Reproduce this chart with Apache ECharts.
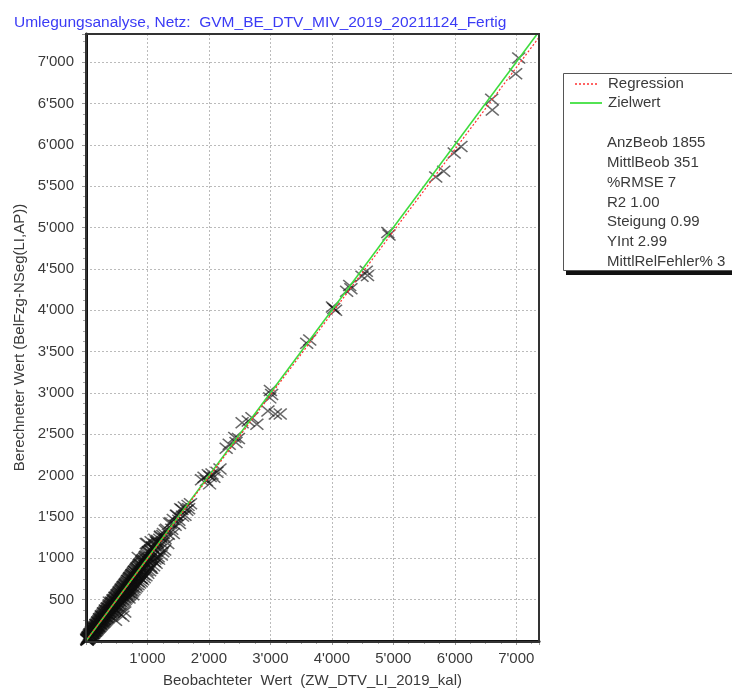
<!DOCTYPE html>
<html><head><meta charset="utf-8">
<script src="https://cdn.jsdelivr.net/npm/echarts@6/dist/echarts.min.js"></script>
<style>html,body{margin:0;padding:0;background:#fff}#c{width:732px;height:693px}</style>
</head><body><div id="c"></div>
<script>
const obsLow = [15,22,30,38,45,52,60,68,75,80,88,95,102,108,115,120,128,135,140,146,152,158,165,170,176,182,188,195,200,206,212,218,225,230,236,242,248,255,260,266,272,278,284,290,296];
const calcLow = [18,20,35,33,50,47,66,61,80,72,95,90,110,98,122,112,140,126,150,133,160,148,178,160,190,170,196,180,215,192,225,205,240,214,248,228,262,238,275,250,290,258,300,270,312];
const obsMid = [302,308,315,320,326,332,338,345,350,356,362,368,375,380,386,392,398,405,410,416,422,428,435,440,446,452,458,465,470,476,482,490,496,502,508,515,520,528,534,540,546,552,560,566,572,580,586,592,600,606,612,620,628,634,640,648,655,662,668,675,682,690,696];
const calcMid = [285,330,296,342,305,350,318,365,330,372,340,390,352,400,362,415,375,430,385,440,398,455,410,465,420,478,430,490,442,505,455,520,468,530,478,545,490,560,500,570,515,585,525,600,540,610,552,625,565,640,578,655,590,668,605,680,618,700,630,712,640,728,655];
const obsDense = [10,18,25,33,40,48,55,62,70,78,85,92,100,106,113,118,125,132,138,144,150,156,162,168,174,180,186,192,198,204,210,216,222,228,234,240,246,252,258,264,270,276,282,288,294,300,310,318,325,334,342,350,358,366,374,382,390,398,
  408,416,425,433,442,450,458,466,475,484,492,500,510,518,526,535,544,552,560,570,578,586,595,604,612,620,630,640,648,656,665,674,682,690,700,710,718,726,735,744,752,760,770,780,790,800,
  810,822,835,846,858,870,882,895,908,920,935,948,960,975,990,1005,1020,1035,1050,1068,1085,1100,1120,1140,1160,1180,1200,1225,1250,1280];
const calcDense = [25,8,40,20,58,30,75,45,92,55,110,70,128,80,140,92,155,100,170,112,180,122,195,130,205,140,222,150,235,160,248,170,262,178,275,190,290,198,300,210,315,218,330,228,345,236,360,248,372,262,390,275,405,285,420,298,438,310,
  455,322,470,338,490,352,505,365,525,380,540,395,560,405,575,420,595,435,610,448,628,462,645,478,662,490,680,505,698,520,715,535,735,548,752,560,770,575,790,590,808,605,825,620,845,640,
  865,660,885,680,905,700,930,720,955,740,980,765,1005,790,1030,820,1060,850,1090,880,1120,910,1150,940,1190,990,1230,1040,1275,1100];
const obsDense2 = [20,35,50,65,82,98,110,130,142,160,172,190,205,220,238,250,268,285,298,315,330,345,362,378,392,410,425,440,456,472,488,505,522,538,555,572,590,605,622,640,658,675,692,710,728,748,765,785,805,825,845,868,890,915,940,965,992,1020,1048,1080,1110,1145,1175,1215,1250,1290,1330,1380,1420,1470,1520,1560,1610,1660];
const calcDense2 = [12,48,38,85,66,118,95,160,118,200,150,230,175,270,205,305,232,340,262,375,290,400,318,430,345,470,372,500,400,530,428,555,455,590,480,625,505,660,530,690,565,730,590,765,615,800,650,840,680,880,720,925,760,975,800,1020,850,1080,900,1130,960,1200,1020,1270,1080,1340,1180,1430,1300,1520,1420,1590,1520,1640];
const obsOut = [550,600,630,480,700,760,380,1120,1050,900,980,850,1150,1000,1060,1120];
const calcOut = [330,300,350,250,520,560,470,990,880,760,1180,1010,1000,1180,1200,1230];
const obsHigh1 = [702,710,716,724,730,738,745,752,760,768,775,782,790,798,805,812,820,828,836,842,850,858,866,872,880,888,896,904,912,920,930,940,950,960,972,985,998,1010,1025,1040,1055,1070,1085,1100];
const calcHigh1 = [745,668,760,680,775,700,790,712,805,725,820,740,840,752,850,770,868,782,880,800,900,815,915,828,930,842,950,858,965,870,985,890,1000,910,1025,935,1050,960,1075,985,1100,1010,1140,1040];
const obsHigh2 = [1120,1140,1165,1190,1210,1235,1260,1285,1310,1340,1365,1395,1420,1450,1480,1510,1540,1570,1600,1640,1670,1700];
const calcHigh2 = [1170,1090,1215,1140,1260,1180,1300,1240,1350,1290,1420,1350,1470,1400,1520,1460,1600,1510,1620,1580,1600,1660];
const obsTop = [1880,1920,1960,1990,2020,2050,2080,2130,2180,2010,2280,2330,2420,2440,2480,2540,2640,2780,2700,2960,3080,3160,3000,2990,3020,3640,3590,4030,4010,4060,4240,4310,4290,4490,4560,4580,4910,4930,5690,5820,5990,6100,6600,6610,6990,7040];
const calcTop = [1950,1980,1940,2010,1990,2020,1980,2040,2080,1900,2330,2380,2460,2400,2450,2640,2660,2620,2700,2780,2745,2745,3030,2940,2980,3640,3600,4020,4040,4000,4230,4260,4300,4410,4470,4420,4940,4910,5610,5680,5900,5980,6550,6420,6860,7050];

const axisMax = 7370, axisMaxY = 7340;
const regSlope = 0.99, regIntercept = 2.99;
const titleText = 'Umlegungsanalyse, Netz:  GVM_BE_DTV_MIV_2019_20211124_Fertig';
const xName = 'Beobachteter  Wert  (ZW_DTV_LI_2019_kal)';
const yName = 'Berechneter Wert (BelFzg-NSeg(LI,AP))';
const legendNames = ['Regression','Zielwert'];
const statLines = ['AnzBeob 1855','MittlBeob 351','%RMSE 7','R2 1.00','Steigung 0.99','YInt 2.99','MittlRelFehler% 3'];

const obs = [].concat(obsLow, obsMid, obsDense, obsDense2, obsOut, obsHigh1, obsHigh2, obsTop);
const calc = [].concat(calcLow, calcMid, calcDense, calcDense2, calcOut, calcHigh1, calcHigh2, calcTop);
const pts = obs.map((v,i)=>[v, calc[i]]);

function fmt(v, step){
  if (v === 0 || v % step !== 0) return '';
  if (v < 1000) return String(v);
  return Math.floor(v/1000) + "'" + String(v%1000).padStart(3,'0');
}
const font = '"Liberation Sans", Arial, sans-serif';
const txtCol = '#3a3a3a';
const chart = echarts.init(document.getElementById('c'), null, {renderer:'canvas'});
const graphics = [
  {type:'rect', shape:{x:566,y:76,width:200,height:199}, style:{fill:'#111'}, z:0},
  {type:'rect', shape:{x:563.5,y:73.5,width:200,height:197}, style:{fill:'#fff', stroke:'#555', lineWidth:1}, z:1},
  {type:'line', shape:{x1:575,y1:84,x2:598,y2:84}, style:{stroke:'#ff3030', lineWidth:1.3, lineDash:[2,2]}, z:2},
  {type:'line', shape:{x1:570,y1:103,x2:602,y2:103}, style:{stroke:'#40e040', lineWidth:1.8}, z:2},
  {type:'rect', shape:{x:86,y:34,width:453,height:608}, style:{fill:null, stroke:'#333', lineWidth:2}, z:50}
];
legendNames.forEach((t,i)=>{
  graphics.push({type:'text', z:2, style:{text:t, x:608, y:84 + i*19, fill:txtCol, font:'15px '+font, textVerticalAlign:'middle'}});
});
statLines.forEach((t,i)=>{
  graphics.push({type:'text', z:2, style:{text:t, x:607, y:143 + i*19.8, fill:txtCol, font:'15px '+font, textVerticalAlign:'middle'}});
});
chart.setOption({
  animation:false,
  backgroundColor:'#fff',
  title:{text:titleText, left:9, top:10, textStyle:{color:'#3b3bf5', fontSize:15.5, fontWeight:'normal', fontFamily:font}},
  grid:{left:86, top:34, width:453, height:608, show:false, containLabel:false},
  graphic:graphics,
  xAxis:{type:'value', min:0, max:axisMax, interval:1000,
    name:xName, nameLocation:'middle', nameGap:32, nameTextStyle:{color:txtCol, fontSize:15, fontFamily:font},
    axisLine:{show:true, onZero:false, lineStyle:{color:'#111', width:3}},
    axisTick:{show:true, inside:false, length:4, lineStyle:{color:'#999'}},
    minorTick:{show:true, splitNumber:4, length:3, lineStyle:{color:'#aaa'}},
    axisLabel:{color:txtCol, fontSize:15, fontFamily:font, margin:10, formatter:v=>fmt(v,1000)},
    splitLine:{show:true, lineStyle:{color:'#bbb', type:[2,2], width:1}}},
  yAxis:{type:'value', min:0, max:axisMaxY, interval:500,
    name:yName, nameLocation:'middle', nameGap:58, nameTextStyle:{color:txtCol, fontSize:15, fontFamily:font},
    axisLine:{show:true, onZero:false, lineStyle:{color:'#111', width:3}},
    axisTick:{show:true, inside:false, length:4, lineStyle:{color:'#999'}},
    minorTick:{show:true, splitNumber:4, length:3, lineStyle:{color:'#aaa'}},
    axisLabel:{color:txtCol, fontSize:15, fontFamily:font, margin:12, formatter:v=>fmt(v,500)},
    splitLine:{show:true, lineStyle:{color:'#bbb', type:[2,2], width:1}}},
  series:[
    {type:'scatter', name:'Beobachtungen', data:pts, symbol:'path://M0,0L10,10M10,0L0,10', symbolSize:[13,11],
      itemStyle:{color:'rgba(0,0,0,0)', borderColor:'rgba(15,15,15,0.78)', borderWidth:1.5}, z:2},
    {type:'line', name:'Regression', data:[[0,regIntercept],[axisMax, regSlope*axisMax+regIntercept]], symbol:'none',
      lineStyle:{color:'#ff3030', width:1.2, type:[2,2]}, z:4, clip:true},
    {type:'line', name:'Zielwert', data:[[0,0],[axisMax,axisMax]], symbol:'none',
      lineStyle:{color:'#3ddc3d', width:1.6}, z:3, clip:true}
  ]
});
</script></body></html>
